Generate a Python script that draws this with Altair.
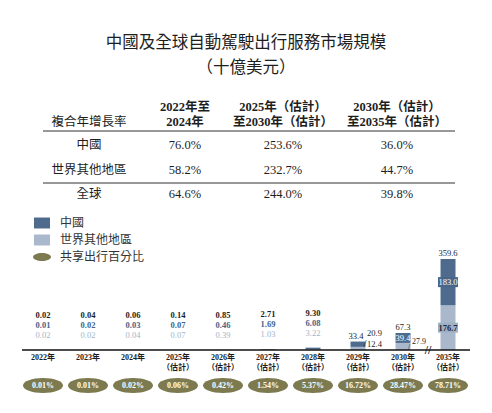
import altair as alt
import pandas as pd

# 市場規模（十億美元）
years = ["2022", "2023", "2024", "2025", "2026", "2027", "2028", "2029", "2030", "2035"]
china = [0.01, 0.02, 0.03, 0.07, 0.46, 1.69, 6.08, 20.9, 39.4, 183.0]
rest = [0.02, 0.02, 0.04, 0.07, 0.39, 1.03, 3.22, 12.4, 27.9, 176.7]
total = [0.02, 0.04, 0.06, 0.14, 0.85, 2.71, 9.30, 33.4, 67.3, 359.6]
share = [0.01, 0.01, 0.02, 0.06, 0.42, 1.54, 5.37, 16.72, 28.47, 78.71]

# 複合年增長率表
title_lines = ["中國及全球自動駕駛出行服務市場規模", "（十億美元）"]
cagr_rows = ["中國", "世界其他地區", "全球"]
cagr_heads = ["複合年增長率", "2022年至\n2024年", "2025年（估計）\n至2030年（估計）", "2030年（估計）\n至2035年（估計）"]
cagr_22_24 = [76.0, 58.2, 64.6]
cagr_25_30 = [253.6, 232.7, 244.0]
cagr_30_35 = [36.0, 44.7, 39.8]

legend_items = ["中國", "世界其他地區", "共享出行百分比"]

DARK = "#4e6b8e"
LIGHT = "#a9b8cb"
OLIVE = "#7c7a4e"
INK = "#1e1e1e"
SERIF = "Liberation Serif, Noto Sans CJK TC"
CJK = "Noto Sans CJK TC"

ELLIPSE = "M-1,0A1,0.375 0 1,1 1,0A1,0.375 0 1,1 -1,0Z"
LEG_ELLIPSE = "M-1,0A1,0.45 0 1,1 1,0A1,0.45 0 1,1 -1,0Z"
LEG_RECT = "M-0.89,-0.61L0.89,-0.61L0.89,0.61L-0.89,0.61Z"
BOX = "M-1,-0.5L1,-0.5L1,0.5L-1,0.5Z"


def fmt(v):
    return f"{v:.2f}" if v < 10 else f"{v:.1f}"


bars = pd.DataFrame({"year": years, "china": china, "rest": rest, "total": total})
bars["t_total"] = [fmt(v) for v in total]
bars["t_china"] = [fmt(v) for v in china]
bars["t_rest"] = [fmt(v) for v in rest]
bars["pct"] = [f"{v:.2f}%" for v in share]
bars["ylab"] = [f"{y}年" + ("\n（估計）" if int(y) >= 2025 else "") for y in years]
bars["china_mid"] = bars["rest"] + bars["china"] / 2
bars["rest_mid"] = bars["rest"] / 2
bars["zero"] = 0.0

xscale = alt.Scale(domain=years, range=[12.5, 462.5], paddingInner=0.667, paddingOuter=0.333)
yscale = alt.Scale(domain=[0, 359.6], range=[342, 251], nice=False)
X = alt.X("year:N", scale=xscale, axis=None)


def Y(field):
    return alt.Y(f"{field}:Q", scale=yscale, axis=None)


base = alt.Chart(bars)


def only(*ys):
    return base.transform_filter(alt.FieldOneOfPredicate(field="year", oneOf=list(ys)))


def label(src, color=INK, weight="normal", size=8.5, **kw):
    return src.mark_text(font=SERIF, fontSize=size, fontWeight=weight, color=color, **kw)


# ---- title ----
title = alt.Chart(pd.DataFrame({"line": title_lines})).mark_text(
    font=CJK, fontSize=16.5, color=INK
).encode(
    x=alt.value(238),
    y=alt.Y("line:N", scale=alt.Scale(type="point", domain=title_lines, range=[35, 60], padding=0), axis=None),
    text="line:N",
)

# ---- CAGR table ----
cells = []
for ri, r in enumerate(cagr_rows):
    cells.append({"row": r, "ci": 0, "val": r})
    for ci, col in enumerate([cagr_22_24, cagr_25_30, cagr_30_35]):
        cells.append({"row": r, "ci": ci + 1, "val": f"{col[ri]:.1f}%"})
cells = pd.DataFrame(cells)
tx = alt.X("ci:Q", scale=alt.Scale(domain=[0, 1, 2, 3], range=[81, 177, 275, 389]), axis=None)

table = alt.Chart(cells).mark_text(font=SERIF, fontSize=12.5, color=INK).encode(
    x=tx,
    y=alt.Y("row:N", scale=alt.Scale(type="point", domain=cagr_rows, range=[137, 186], padding=0), axis=None),
    text="val:N",
)

heads = pd.DataFrame({"ci": [0, 1, 2, 3], "head": cagr_heads})
head = alt.Chart(heads).transform_filter("datum.ci > 0").mark_text(
    font=SERIF, fontSize=12.5, fontWeight="bold", color=INK, lineBreak="\n", lineHeight=15, baseline="middle"
).encode(x=tx, y=alt.value(99), text="head:N")
head0 = alt.Chart(heads).transform_filter("datum.ci == 0").mark_text(
    font=CJK, fontSize=12.5, color=INK
).encode(x=tx, y=alt.value(114), text="head:N")

one = alt.Chart(pd.DataFrame({"k": [0]}))
rule_top = one.mark_rule(color="#333", strokeWidth=1.2).encode(x=alt.value(35), x2=alt.value(447), y=alt.value(123))
rule_mid = one.mark_rule(color="#333", strokeWidth=1.2).encode(x=alt.value(35), x2=alt.value(447), y=alt.value(175))

# ---- legend ----
leg = alt.Chart(pd.DataFrame({"item": legend_items}))
leg_y = alt.Y("item:N", scale=alt.Scale(type="point", domain=legend_items, range=[215, 249], padding=0), axis=None)
leg_sym = leg.mark_point(filled=True, size=324, opacity=1).encode(
    x=alt.value(34),
    y=leg_y,
    color=alt.Color("item:N", scale=alt.Scale(domain=legend_items, range=[DARK, LIGHT, OLIVE]), legend=None),
    shape=alt.Shape("item:N", scale=alt.Scale(domain=legend_items, range=[LEG_RECT, LEG_RECT, LEG_ELLIPSE]), legend=None),
)
leg_txt = leg.mark_text(font=CJK, fontSize=12, color="#333", align="left").encode(
    x=alt.value(52), y=leg_y, text="item:N"
)

# ---- bars ----
bar_rest = base.mark_bar(color=LIGHT).encode(x=X, y=Y("rest"))
bar_china = base.mark_bar(color=DARK).encode(x=X, y=Y("rest"), y2="total:Q")
baseline = base.transform_filter("datum.year == '2022'").mark_rule(color="#111", strokeWidth=1.3).encode(
    x=alt.value(14), x2=alt.value(462), y=Y("zero")
)

early = only(*years[:7])
lab_total = label(early, weight="bold", dy=-35).encode(x=X, y=Y("total"), text="t_total:N")
lab_china = label(early, color="#45648a", weight="bold", dy=-25).encode(x=X, y=Y("total"), text="t_china:N")
lab_rest = label(early, color="#a3b4c9", dy=-15).encode(x=X, y=Y("total"), text="t_rest:N")

y29 = only("2029")
l29 = [
    label(y29, dx=-2, dy=-6).encode(x=X, y=Y("total"), text="t_total:N"),
    label(y29, align="left", dx=9, dy=-9).encode(x=X, y=Y("total"), text="t_china:N"),
    label(y29, align="left", dx=9, dy=2).encode(x=X, y=Y("total"), text="t_rest:N"),
    y29.mark_text(text="/", font=SERIF, fontSize=11, color=INK, dx=7, dy=2).encode(x=X, y=Y("total")),
]

y30 = only("2030")
l30 = [
    label(y30, dy=-6).encode(x=X, y=Y("total"), text="t_total:N"),
    label(y30, color="white").encode(x=X, y=Y("china_mid"), text="t_china:N"),
    label(y30, size=8, align="left", dx=9, dy=-1).encode(x=X, y=Y("rest"), text="t_rest:N"),
    y30.mark_text(text="/", font=SERIF, fontSize=9, color=INK, dx=6, dy=4.5).encode(x=X, y=Y("rest")),
    y30.mark_text(text="//", font=SERIF, fontSize=12, fontWeight="bold", color=INK, dx=25).encode(x=X, y=Y("zero")),
]

y35 = only("2035")
l35 = [
    label(y35, dy=-6).encode(x=X, y=Y("total"), text="t_total:N"),
    y35.mark_point(shape=BOX, size=400, filled=True, opacity=1, color="#48658a").encode(x=X, y=Y("china_mid")),
    label(y35, color="white").encode(x=X, y=Y("china_mid"), text="t_china:N"),
    y35.mark_point(shape=BOX, size=400, filled=True, opacity=1, color="#a0b1c5").encode(x=X, y=Y("rest_mid")),
    label(y35, color="#1f2633", weight="bold").encode(x=X, y=Y("rest_mid"), text="t_rest:N"),
]

# ---- year labels and share ellipses ----
ylab = base.mark_text(
    font=SERIF, fontSize=8, fontWeight="bold", color=INK, baseline="top", lineBreak="\n", lineHeight=10
).encode(x=X, y=alt.value(345.5), text="ylab:N")
ell = base.mark_point(shape=ELLIPSE, size=1600, filled=True, opacity=1, color=OLIVE).encode(x=X, y=alt.value(377.5))
ell_txt = base.mark_text(font=SERIF, fontSize=8, fontWeight="bold", color="white").encode(
    x=X, y=alt.value(377.5), text="pct:N"
)

layers = [title, head, head0, table, rule_top, rule_mid, leg_sym, leg_txt,
          bar_rest, bar_china, baseline, lab_total, lab_china, lab_rest,
          *l29, *l30, *l35, ylab, ell, ell_txt]

chart = (
    alt.layer(*layers)
    .resolve_scale(x="independent", y="independent", color="independent", shape="independent")
    .properties(width=476, height=397, padding=0, autosize=alt.AutoSizeParams(type="none"), background="white")
    .configure_view(stroke=None)
)

chart.save("out.html", embed_options={"renderer": "svg", "actions": False})
